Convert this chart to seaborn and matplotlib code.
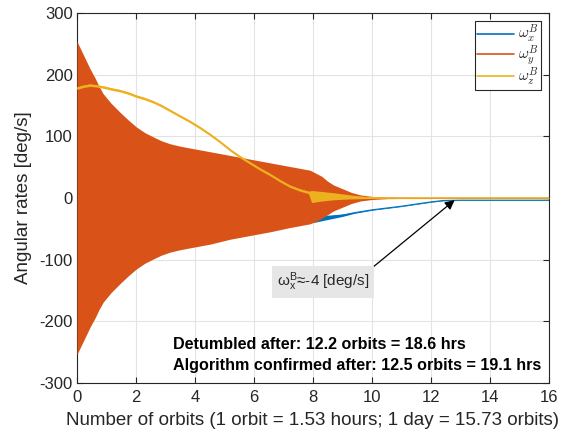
import numpy as np
import pandas as pd
import matplotlib
matplotlib.use("Agg")
import matplotlib.pyplot as plt
import seaborn as sns
from matplotlib.lines import Line2D

# ---- data ----
# omega_y (fast oscillation) envelope
wy_orbits = [0, 0.15, 0.3, 0.45, 0.61, 0.75, 0.89, 1.15, 1.46, 1.75, 2.02, 2.3, 2.59, 2.85, 3.15,
             3.5, 3.83, 4.17, 4.51, 5.19, 5.86, 6.54, 7.22, 7.9,
             8.1, 8.3, 8.5, 8.7, 9.0, 9.3, 9.6, 10.0, 10.5, 11.0, 12.0, 13.0, 14.0, 15.0, 16.0]
wy_upper = [254, 239, 224, 209, 195, 181, 169, 154, 139, 126, 115, 106, 99, 93, 88,
            84, 81, 78, 75, 69, 63, 57, 51, 45,
            40, 35, 27, 21, 15, 9, 5, 2.5, 1.2, 1.0, 1.0, 1.0, 1.0, 1.0, 1.0]
wy_lower = [-254, -239, -224, -209, -195, -181, -169, -154, -139, -126, -115, -106, -99, -93, -88,
            -84, -81, -78, -75, -67, -61, -55, -48, -42,
            -38, -33, -27, -21, -15, -9, -5, -2.5, -1.2, -1.0, -1.0, -1.0, -1.0, -1.0, -1.0]

# omega_z (slow decay) band
wz_orbits = [0, 0.2, 0.44, 0.65, 0.89, 1.15, 1.46, 1.75, 2.02, 2.3, 2.58, 2.85, 3.15, 3.45, 3.83,
             4.17, 4.51, 4.85, 5.19, 5.52, 5.86, 6.2, 6.54, 6.88, 7.22, 7.55,
             7.85, 7.95, 8.3, 8.68, 9.25, 9.8, 10.5, 12.0, 14.0, 16.0]
wz_upper = [180, 183, 185, 184, 182, 179, 176, 172, 167, 163, 158, 152, 144, 136, 126,
            116, 105, 93, 80, 69, 59, 49, 40, 30, 21, 15,
            11, 12, 10.5, 8.5, 5, 2, 0.8, 0.6, 0.6, 0.6]
wz_lower = [176, 179, 181, 180, 178, 175, 172, 168, 163, 159, 154, 148, 140, 132, 122,
            112, 101, 89, 76, 65, 55, 45, 36, 26, 17, 11,
            7, -7.5, -5, -3, -1.6, -1, -0.5, -0.4, -0.4, -0.4]

# omega_x (visible after orbit 8)
wx_orbits = [8.0, 8.5, 9.0, 9.4, 10.0, 11.0, 12.0, 12.4, 13.0, 14.0, 15.0, 16.0]
wx_lower = [-40, -35, -30, -25, -20, -14, -7, -4.8, -4.2, -4.2, -4.2, -4.2]
wx_upper = [-30, -28, -26, -23, -18.6, -12.8, -5.8, -3.6, -3.2, -3.2, -3.2, -3.2]

x_ticks = [0, 2, 4, 6, 8, 10, 12, 14, 16]
y_ticks = [-300, -200, -100, 0, 100, 200, 300]

C_X, C_Y, C_Z = "#0072BD", "#D95319", "#EDB120"

sns.set_theme(style="white")
plt.rcParams["font.family"] = ["Liberation Sans", "DejaVu Sans"]
plt.rcParams["mathtext.fontset"] = "cm"
plt.rcParams["axes.unicode_minus"] = False

fig = plt.figure(figsize=(5.66, 4.36), dpi=100)
ax = fig.add_axes([0.136, 0.122, 0.834, 0.848])

# omega_x
ax.fill_between(wx_orbits, wx_lower, wx_upper, color=C_X, lw=0, zorder=2)
dfx = pd.DataFrame({"orbit": wx_orbits, "w": [(a + b) / 2 for a, b in zip(wx_lower, wx_upper)]})
sns.lineplot(data=dfx, x="orbit", y="w", color=C_X, lw=0.8, ax=ax, zorder=2)

# omega_y
ax.fill_between(wy_orbits, wy_lower, wy_upper, color=C_Y, lw=0, zorder=3)

# omega_z
ax.fill_between(wz_orbits, wz_lower, wz_upper, color=C_Z, lw=0, zorder=4)
dfz = pd.DataFrame({"orbit": wz_orbits, "w": [(a + b) / 2 for a, b in zip(wz_lower, wz_upper)]})
sns.lineplot(data=dfz, x="orbit", y="w", color=C_Z, lw=1.0, ax=ax, zorder=4)

ax.set_xlim(0, 16)
ax.set_ylim(-300, 300)
ax.set_xticks(x_ticks)
ax.set_yticks(y_ticks)
ax.grid(True, color="#e3e3e3", lw=0.8, zorder=0)
ax.set_axisbelow(True)
for s in ax.spines.values():
    s.set_color("#262626")
    s.set_linewidth(0.8)
ax.tick_params(direction="in", length=4, width=0.8, color="#262626", labelcolor="#262626",
               labelsize=12, top=True, right=True, bottom=True, left=True, pad=3)
ax.tick_params(axis="x", pad=5.5)
ax.set_xlabel("Number of orbits (1 orbit = 1.53 hours; 1 day = 15.73 orbits)", fontsize=13.5,
              color="#262626")
ax.set_ylabel("Angular rates [deg/s]", fontsize=13.5, color="#262626")
ax.xaxis.set_label_coords(0.5, -0.080)
ax.yaxis.set_label_coords(-0.095, 0.5)

handles = [Line2D([], [], color=C_X, lw=1.2), Line2D([], [], color=C_Y, lw=1.2),
           Line2D([], [], color=C_Z, lw=1.2)]
labels = [r"$\omega_x^B$", r"$\omega_y^B$", r"$\omega_z^B$"]
leg = ax.legend(handles, labels, loc="upper right", fontsize=11, fancybox=False, framealpha=1,
                edgecolor="#262626", handlelength=2.4, handletextpad=0.3, borderpad=0.15,
                labelspacing=-0.1, borderaxespad=0.5)
leg.get_frame().set_linewidth(0.8)

ax.annotate(r"ω$\mathregular{^B_x}$≈-4 [deg/s]", xy=(12.8, -3.5), xytext=(8.33, -136),
            ha="center", va="center", fontsize=11, color="#262626",
            bbox=dict(boxstyle="square,pad=0.3", fc="#e6e6e6", ec="none"),
            arrowprops=dict(arrowstyle="-|>", color="black", lw=0.9, relpos=(1.0, 1.0),
                            mutation_scale=14, shrinkA=0, shrinkB=0), zorder=6)

ax.text(3.25, -238, "Detumbled after: 12.2 orbits = 18.6 hrs", fontsize=11.6, fontweight="bold",
        ha="left", va="center", color="black", zorder=6)
ax.text(3.25, -272, "Algorithm confirmed after: 12.5 orbits = 19.1 hrs", fontsize=11.6,
        fontweight="bold", ha="left", va="center", color="black", zorder=6)

fig.savefig("out.png", dpi=100)
